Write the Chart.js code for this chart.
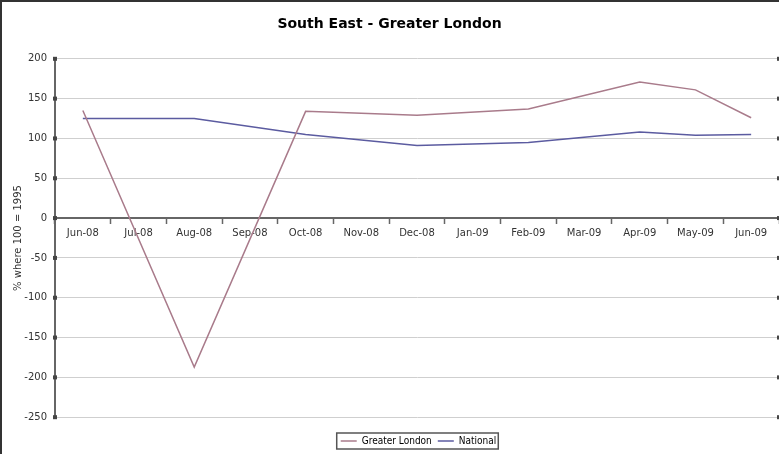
<!DOCTYPE html>
<html>
<head>
<meta charset="utf-8">
<script src="https://cdn.jsdelivr.net/npm/chart.js@4/dist/chart.umd.min.js"></script>
<style>
  html, body { margin: 0; padding: 0; background: #fff; }
  #wrap { width: 779px; height: 454px; }
</style>
</head>
<body>
<div id="wrap"><canvas id="grafico" width="779" height="454"></canvas></div>
<script>
// dados
const months = ['Jun-08','Jul-08','Aug-08','Sep-08','Oct-08','Nov-08','Dec-08','Jan-09','Feb-09','Mar-09','Apr-09','May-09','Jun-09']
const greaterLondon = [135, null, -187, null, 134, null, 129, null, 137, null, 171, 161, 126]
const national = [125, null, 125, null, 105, null, 91, null, 95, null, 108, 104, 105]
const yTicks = [200, 150, 100, 50, 0, -50, -100, -150, -200, -250]

Chart.defaults.font.family = '"DejaVu Sans", Verdana, sans-serif'
Chart.defaults.font.size = 10
Chart.defaults.color = '#333'

// moldura, caixa da legenda e legenda deslocada
const frame = {
  id: 'frame',
  afterLayout(chart) {
    const lg = chart.legend
    lg.left += 29; lg.right += 29
    lg.top += 2; lg.bottom += 2
  },
  afterDraw(chart) {
    const c = chart.ctx
    c.save()
    c.strokeStyle = '#333'
    c.lineWidth = 2
    c.beginPath()
    c.moveTo(1, 454); c.lineTo(1, 1); c.lineTo(779, 1)
    c.stroke()
    const boxes = chart.legend.legendHitBoxes
    if (boxes && boxes.length) {
      const l = Math.min(...boxes.map(b => b.left)) - 4
      const r = Math.max(...boxes.map(b => b.left + b.width)) + 2
      const t = boxes[0].top - 3
      const h = boxes[0].height + 6
      c.lineWidth = 1.5
      c.strokeStyle = '#555'
      c.strokeRect(l, t, r - l, h)
    }
    // marcadores no eixo y
    const y = chart.scales.y
    c.fillStyle = '#444'
    yTicks.forEach(v => {
      const py = y.getPixelForValue(v)
      c.fillRect(y.right - 2, py - 2, 4, 4)
      c.fillRect(chart.chartArea.right - 2, py - 2, 4, 4)
    })
    c.restore()
  }
}

const data = {
  labels: months,
  datasets: [{
    label: 'Greater London',
    data: greaterLondon,
    borderColor: '#a97b8b',
    backgroundColor: '#a97b8b',
    borderWidth: 1.5,
    pointRadius: 0,
    spanGaps: true,
    tension: 0
  }, {
    label: 'National',
    data: national,
    borderColor: '#5b5ba0',
    backgroundColor: '#5b5ba0',
    borderWidth: 1.5,
    pointRadius: 0,
    spanGaps: true,
    tension: 0
  }]
}

const config = {
  type: 'line',
  data,
  options: {
    responsive: false,
    animation: false,
    layout: { padding: { left: 0, right: 0, top: 0, bottom: 0 } },
    plugins: {
      title: {
        display: true,
        text: 'South East - Greater London',
        color: '#000',
        font: { size: 14, weight: 'bold' },
        padding: { top: 16, bottom: 26 }
      },
      legend: {
        position: 'bottom',
        // titulo vazio so para empurrar a legenda para baixo
        title: { display: true, text: ' ', font: { size: 9 }, padding: 0 },
        labels: {
          usePointStyle: true,
          pointStyle: 'line',
          pointStyleWidth: 16,
          boxHeight: 8,
          padding: 6,
          color: '#000',
          font: { size: 10, family: '"DejaVu Sans Condensed", "DejaVu Sans", sans-serif' }
        }
      },
      tooltip: { enabled: false }
    },
    scales: {
      x: {
        position: { y: 0 },
        offset: true,
        grid: { drawOnChartArea: false, offset: true, tickLength: 5, tickColor: '#666', tickWidth: 1.5 },
        border: { color: '#666', width: 2 },
        ticks: { padding: 4, maxRotation: 0, autoSkip: false, color: '#333' }
      },
      y: {
        min: -250,
        max: 200,
        ticks: { stepSize: 50, padding: 6, color: '#333' },
        grid: { color: '#cfcfcf', lineWidth: 1, tickLength: 2, tickColor: '#444' },
        border: { color: '#666', width: 2 },
        title: { display: true, text: '% where 100 = 1995', color: '#333', font: { size: 10 }, padding: { top: 12, bottom: 0 } },
        afterFit(scale) { scale.width = 55 }
      }
    }
  },
  plugins: [frame]
}

const graph = new Chart(document.getElementById('grafico'), config)
</script>
</body>
</html>
